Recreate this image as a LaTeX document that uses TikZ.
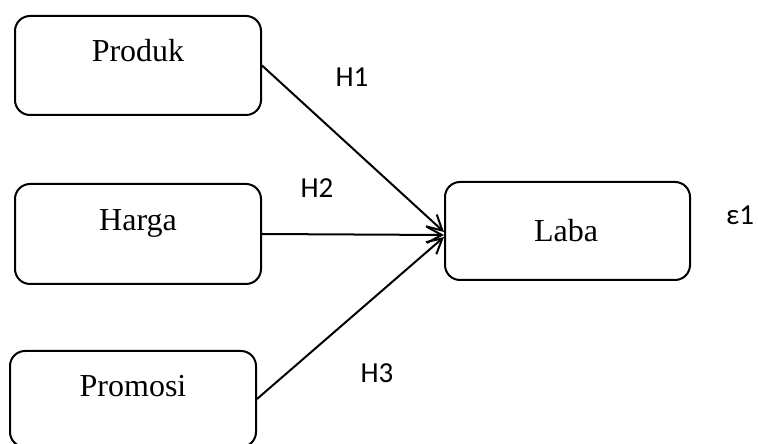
\documentclass[tikz,border=0pt]{standalone}
\usepackage{fontspec}
\setmainfont{Liberation Serif}
\newfontfamily\lblfont{Carlito}
\usetikzlibrary{arrows.meta}
\begin{document}
\begin{tikzpicture}[x=1pt,y=1pt,
  box/.style={draw=black, line width=2pt, rounded corners=15pt, inner sep=0pt},
  boxtext/.style={anchor=base, inner sep=0pt, font=\fontsize{32}{36}\selectfont},
  hlabel/.style={anchor=base, inner sep=0pt, font=\lblfont\fontsize{29}{34}\selectfont},
  conn/.style={line width=2pt, -{Straight Barb[length=15pt,width=16pt,line width=2pt]}}]
\useasboundingbox (0,0) rectangle (758,444);
\node[box, minimum width=246pt, minimum height=99pt] (produk) at (138,378.5) {};
\node[box, minimum width=246pt, minimum height=100pt] (harga) at (138,210) {};
\node[box, minimum width=246pt, minimum height=96pt] (promosi) at (133,45) {};
\node[box, minimum width=245pt, minimum height=98pt] (laba) at (567.5,213) {};
\node[boxtext] (tproduk) at (138,382) {Produk};
\node[boxtext] (tharga) at (138,213) {Harga};
\node[boxtext] (tpromosi) at (133,47) {Promosi};
\node[boxtext] (tlaba) at (566,202) {Laba};
\node[hlabel] (h1) at (352,357) {H1};
\node[hlabel] (h2) at (317,246) {H2};
\node[hlabel] (h3) at (377,61) {H3};
\node[hlabel] (eps) at (740,219) {ε1};
\draw[conn] (produk.east) -- ([yshift=-1pt]laba.west);
\draw[conn] (harga.east) -- ([yshift=-4pt]laba.west);
\draw[conn] (promosi.east) -- ([yshift=-6pt]laba.west);
\end{tikzpicture}
\end{document}
